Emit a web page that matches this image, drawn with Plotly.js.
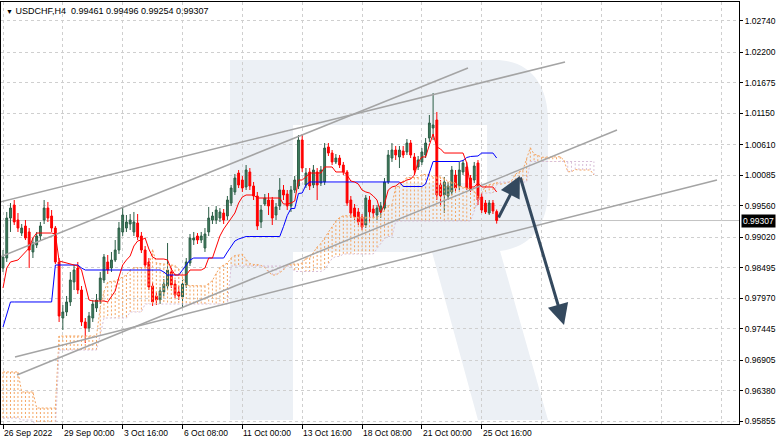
<!DOCTYPE html>
<html><head><meta charset="utf-8">
<script src="https://cdn.plot.ly/plotly-3.0.1.min.js"></script>
<style>html,body{margin:0;padding:0;background:#fff}#chart{width:782px;height:443px}</style>
</head><body><div id="chart"></div>
<script>
const symbol = 'USDCHF,H4';
const dateLabels = ['26 Sep 2022','29 Sep 00:00','3 Oct 16:00','6 Oct 08:00','11 Oct 00:00','13 Oct 16:00','18 Oct 08:00','21 Oct 00:00','25 Oct 16:00'];
const labelBars = [0,16,32,48,64,80,96,112,128];
const futureGridBars = [144,160,176,192];
const priceTicks = [1.02740,1.02200,1.01675,1.01150,1.00610,1.00085,0.99560,0.99020,0.98495,0.97970,0.97445,0.96905,0.96380,0.95855];

const open = [
0.98490,0.98662,0.99350,0.99574,0.99316,0.99092,0.99213,0.99110,0.98766,0.98886,
0.99041,0.99316,0.99522,0.99385,0.99178,0.98594,0.97630,0.97734,0.97906,0.98250,
0.98490,0.98112,0.97562,0.97458,0.97630,0.97802,0.97940,0.98284,0.98594,0.98490,
0.98628,0.98800,0.99110,0.99178,0.99247,0.99110,0.99264,0.99041,0.98800,0.98594,
0.98181,0.98009,0.97940,0.98078,0.98181,0.98422,0.98215,0.98078,0.97992,0.98198,
0.98576,0.98972,0.99041,0.98972,0.98834,0.99110,0.99316,0.99316,0.99350,0.99436,
0.99385,0.99608,0.99798,1.00124,1.00004,0.99884,1.00142,0.99901,0.99729,0.99282,
0.99591,0.99660,0.99660,0.99402,0.99557,0.99832,0.99763,0.99557,0.99832,0.99901,
1.00692,0.99918,1.00142,0.99918,1.00142,0.99952,0.99970,1.00572,1.00468,1.00314,
1.00382,1.00262,1.00142,0.99660,0.99522,0.99454,0.99368,0.99230,0.99660,0.99505,
0.99402,0.99454,0.99522,0.99970,1.00382,1.00520,1.00400,1.00503,1.00486,1.00640,
1.00400,1.00228,1.00314,1.00434,1.00726,1.00898,1.01036,0.99918,0.99746,0.99729,
0.99798,1.00090,0.99901,1.00142,1.00228,1.00038,1.00004,1.00296,0.99712,0.99608,
0.99436,0.99608,0.99461];
const high = [
0.98800,0.99454,0.99608,0.99660,0.99436,0.99247,0.99316,0.99178,0.99006,0.99110,
0.99282,0.99660,0.99626,0.99488,0.99213,0.98662,0.97854,0.98009,0.98422,0.98542,
0.98594,0.98181,0.97630,0.97734,0.97940,0.98043,0.98422,0.98731,0.98714,0.98766,
0.98972,0.99282,0.99522,0.99402,0.99419,0.99454,0.99419,0.99110,0.98869,0.98662,
0.98250,0.98078,0.98164,0.98301,0.98920,0.98490,0.98284,0.98181,0.98284,0.98662,
0.99075,0.99110,0.99092,0.99110,0.99178,0.99540,0.99454,0.99557,0.99522,0.99505,
0.99729,0.99918,1.00107,1.00176,1.00073,1.00262,1.00210,0.99970,0.99798,0.99574,
0.99763,0.99780,0.99712,0.99608,1.00038,0.99918,0.99832,0.99901,1.00073,1.00778,
1.00795,1.00210,1.00210,1.00262,1.00210,1.00245,1.00640,1.00640,1.00520,1.00451,
1.00434,1.00314,1.00176,0.99729,0.99591,0.99522,0.99419,0.99746,0.99729,0.99574,
0.99574,0.99626,1.00038,1.00520,1.00640,1.00589,1.00589,1.00589,1.00709,1.00692,
1.00468,1.00417,1.00554,1.00726,1.01122,1.01500,1.01174,1.00004,1.00056,0.99970,
1.00245,1.00176,1.00314,1.00348,1.00314,1.00090,1.00314,1.00348,0.99780,0.99660,
0.99660,0.99660,0.99496];
const low = [
0.98422,0.98594,0.99110,0.99230,0.99110,0.99041,0.98972,0.98490,0.98662,0.98834,
0.98972,0.99247,0.99282,0.99110,0.98559,0.97562,0.97424,0.97665,0.97837,0.98112,
0.98043,0.97493,0.97200,0.97390,0.97562,0.97734,0.97871,0.98232,0.98387,0.98422,
0.98594,0.98731,0.99041,0.99110,0.99144,0.99041,0.98972,0.98748,0.98490,0.98112,
0.97837,0.97854,0.97871,0.98009,0.98112,0.98146,0.97974,0.97940,0.97802,0.98146,
0.98525,0.98886,0.98903,0.98920,0.98766,0.99041,0.99247,0.99247,0.99282,0.99247,
0.99316,0.99557,0.99746,0.99866,0.99798,0.99832,0.99832,0.99660,0.99144,0.99178,
0.99557,0.99402,0.99230,0.99316,0.99488,0.99660,0.99488,0.99454,0.99780,0.99849,
1.00142,0.99866,0.99832,0.99866,0.99660,0.99901,0.99918,1.00417,1.00262,1.00279,
1.00210,1.00090,0.99557,0.99350,0.99316,0.99230,0.99144,0.99178,0.99282,0.99350,
0.99316,0.99350,0.99488,0.99935,1.00314,1.00348,1.00210,1.00382,1.00434,1.00382,
1.00090,1.00176,1.00262,1.00382,1.00658,1.00692,0.99660,0.99574,0.99436,0.99660,
0.99746,0.99798,0.99832,1.00090,0.99832,0.99798,0.99952,0.99574,0.99436,0.99419,
0.99402,0.99419,0.99254];
const close = [
0.98680,0.99350,0.99522,0.99282,0.99178,0.99178,0.99006,0.98800,0.98920,0.99041,
0.99213,0.99522,0.99350,0.99178,0.98594,0.97665,0.97734,0.97906,0.98284,0.98456,
0.98112,0.97562,0.97458,0.97665,0.97871,0.97940,0.98318,0.98680,0.98456,0.98628,
0.98800,0.99178,0.99402,0.99282,0.99316,0.99282,0.99024,0.98800,0.98542,0.98164,
0.97906,0.97940,0.98095,0.98215,0.98456,0.98198,0.98026,0.98009,0.98215,0.98594,
0.99006,0.99006,0.98972,0.99041,0.99075,0.99350,0.99385,0.99488,0.99454,0.99316,
0.99660,0.99866,1.00038,0.99918,0.99866,1.00176,0.99901,0.99729,0.99213,0.99488,
0.99694,0.99557,0.99350,0.99540,0.99832,0.99746,0.99557,0.99832,1.00004,1.00692,
1.00210,1.00124,0.99901,1.00176,0.99918,1.00176,1.00554,1.00468,1.00314,1.00382,
1.00262,1.00142,0.99608,0.99436,0.99368,0.99282,0.99196,0.99694,0.99454,0.99436,
0.99522,0.99557,0.99970,1.00434,1.00520,1.00434,1.00520,1.00434,1.00640,1.00434,
1.00176,1.00348,1.00486,1.00640,1.00984,1.00950,0.99746,0.99729,0.99970,0.99901,
1.00176,0.99866,1.00176,1.00296,0.99866,0.99832,1.00245,0.99660,0.99488,0.99454,
0.99608,0.99471,0.99307];

const tenkan = [
0.98146,0.98490,0.98594,0.98611,0.98628,0.98697,0.98766,0.98834,0.99006,0.99092,
0.99092,0.99092,0.99092,0.99092,0.99075,0.98611,0.98594,0.98576,0.98559,0.98542,
0.98525,0.98456,0.98215,0.97940,0.97923,0.97923,0.97923,0.97923,0.97906,0.97992,
0.98095,0.98336,0.98542,0.98628,0.98697,0.98869,0.98955,0.98972,0.99006,0.98817,
0.98680,0.98645,0.98645,0.98645,0.98628,0.98473,0.98370,0.98370,0.98370,0.98370,
0.98456,0.98456,0.98456,0.98456,0.98490,0.98662,0.98662,0.98852,0.99041,0.99161,
0.99247,0.99333,0.99436,0.99608,0.99712,0.99746,0.99746,0.99746,0.99694,0.99694,
0.99694,0.99694,0.99694,0.99694,0.99694,0.99591,0.99591,0.99608,0.99643,1.00004,
1.00004,1.00056,1.00124,1.00124,1.00124,1.00124,1.00228,1.00228,1.00228,1.00142,
1.00142,1.00142,1.00090,0.99987,0.99970,0.99935,0.99832,0.99798,0.99780,0.99729,
0.99660,0.99436,0.99591,0.99832,0.99884,0.99901,0.99952,0.99970,1.00004,1.00021,
1.00090,1.00314,1.00400,1.00400,1.00606,1.00795,1.00572,1.00537,1.00468,1.00468,
1.00468,1.00468,1.00468,1.00468,1.00296,0.99884,0.99884,0.99952,0.99884,0.99884,
0.99884,0.99884,0.99798];
const kijun = [
0.97476,0.97682,0.97906,0.97906,0.97906,0.97906,0.97906,0.97906,0.97906,0.97906,
0.97906,0.97906,0.97906,0.97906,0.98542,0.98542,0.98542,0.98542,0.98542,0.98542,
0.98542,0.98490,0.98456,0.98456,0.98456,0.98456,0.98456,0.98456,0.98456,0.98456,
0.98456,0.98456,0.98456,0.98456,0.98456,0.98456,0.98456,0.98456,0.98456,0.98456,
0.98456,0.98456,0.98456,0.98422,0.98370,0.98370,0.98370,0.98370,0.98456,0.98542,
0.98628,0.98662,0.98662,0.98662,0.98662,0.98662,0.98662,0.98662,0.98662,0.98662,
0.98766,0.98852,0.98955,0.98989,0.99006,0.99032,0.99032,0.99032,0.99032,0.99032,
0.99032,0.99032,0.99032,0.99032,0.99032,0.99204,0.99393,0.99514,0.99514,0.99772,
0.99780,0.99918,0.99970,0.99970,0.99970,0.99970,0.99970,0.99970,0.99970,0.99970,
0.99970,0.99970,0.99970,0.99970,0.99970,0.99970,0.99970,0.99970,0.99970,0.99970,
0.99970,0.99970,0.99970,0.99970,0.99970,0.99970,0.99970,0.99892,0.99892,0.99892,
0.99892,0.99892,0.99892,0.99935,1.00133,1.00322,1.00322,1.00322,1.00322,1.00322,
1.00322,1.00322,1.00322,1.00339,1.00391,1.00408,1.00408,1.00417,1.00468,1.00468,
1.00468,1.00468,1.00382];
const spanA = [
0.96702,0.96702,0.96702,0.96702,0.96702,0.96358,0.96358,0.96358,0.96358,0.96082,
0.96082,0.96082,0.96082,0.96082,0.96082,0.97321,0.97321,0.97321,0.97321,0.97321,
0.97321,0.97321,0.97321,0.97321,0.97321,0.97321,0.97811,0.98086,0.98250,0.98258,
0.98267,0.98301,0.98336,0.98370,0.98456,0.98499,0.98499,0.98499,0.98499,0.98499,
0.98809,0.98576,0.98568,0.98559,0.98551,0.98542,0.98533,0.98473,0.98336,0.98198,
0.98189,0.98189,0.98189,0.98189,0.98181,0.98224,0.98275,0.98396,0.98499,0.98542,
0.98576,0.98662,0.98705,0.98714,0.98731,0.98637,0.98568,0.98551,0.98551,0.98533,
0.98499,0.98422,0.98370,0.98370,0.98413,0.98456,0.98542,0.98559,0.98559,0.98559,
0.98576,0.98662,0.98662,0.98757,0.98852,0.98912,0.99006,0.99092,0.99196,0.99299,
0.99359,0.99389,0.99389,0.99389,0.99363,0.99363,0.99363,0.99363,0.99363,0.99363,
0.99363,0.99398,0.99493,0.99561,0.99578,0.99888,0.99892,0.99987,1.00047,1.00047,
1.00047,1.00047,1.00099,1.00099,1.00099,1.00056,1.00056,1.00056,1.00030,0.99978,
0.99970,0.99952,0.99901,0.99884,0.99875,0.99849,0.99815,0.99703,0.99780,0.99901,
0.99927,0.99935,0.99961,0.99931,0.99948,0.99957,0.99991,1.00103,1.00146,1.00167,
1.00370,1.00559,1.00447,1.00430,1.00395,1.00395,1.00395,1.00395,1.00395,1.00404,
1.00344,1.00146,1.00146,1.00185,1.00176,1.00176,1.00176,1.00176,1.00090];
const spanB = [
0.95910,0.95910,0.95910,0.95910,0.95910,0.95876,0.95876,0.95876,0.95876,0.95704,
0.95704,0.95704,0.95704,0.95704,0.95704,0.97080,0.97080,0.97080,0.97080,0.97080,
0.97080,0.97080,0.97080,0.97080,0.97080,0.97080,0.97338,0.97630,0.97630,0.97630,
0.97630,0.97630,0.97630,0.97630,0.97734,0.97734,0.97734,0.97734,0.97871,0.97871,
0.97871,0.97871,0.97871,0.97871,0.97871,0.97871,0.97871,0.97871,0.97871,0.97871,
0.97871,0.97871,0.97871,0.97871,0.97871,0.97871,0.97871,0.97871,0.97871,0.97871,
0.97871,0.98525,0.98525,0.98525,0.98525,0.98525,0.98525,0.98525,0.98525,0.98525,
0.98525,0.98525,0.98525,0.98525,0.98525,0.98525,0.98525,0.98525,0.98430,0.98430,
0.98430,0.98430,0.98430,0.98430,0.98430,0.98430,0.98465,0.98559,0.98654,0.98688,
0.98688,0.98731,0.98731,0.98731,0.98731,0.98731,0.98731,0.98731,0.98731,0.98731,
0.98826,0.98912,0.98998,0.99032,0.99032,0.99290,0.99299,0.99299,0.99299,0.99299,
0.99299,0.99299,0.99299,0.99299,0.99299,0.99299,0.99299,0.99299,0.99299,0.99299,
0.99299,0.99299,0.99299,0.99299,0.99299,0.99299,0.99471,0.99660,0.99780,0.99780,
0.99780,0.99780,0.99918,0.99970,0.99970,0.99970,0.99970,0.99970,0.99970,0.99970,
0.99970,1.00322,1.00322,1.00322,1.00322,1.00322,1.00322,1.00322,1.00322,1.00322,
1.00322,1.00322,1.00322,1.00322,1.00322,1.00322,1.00322,1.00322,1.00322];

// analyst drawings: [barStart, priceStart, barEnd, priceEnd]
const channelLines = [
  [-0.80, 0.99626, 150.27, 1.02034],
  [-0.80, 0.98680, 124.33, 1.01930],
  [3.74, 0.96650, 164.17, 1.00864],
  [3.21, 0.96960, 190.91, 1.00004]
];
// forecast arrows: start, swing high, target  [bar, price]
const forecast = [[132.3, 0.99333], [138.2, 1.00073], [150.0, 0.97510]];

const bars = open.map((_, i) => i);
const cloudBars = spanA.map((_, i) => i);

const hatchUp = {x: [], y: []}, hatchDn = {x: [], y: []};
cloudBars.forEach(i => {
  const t = spanA[i] >= spanB[i] ? hatchUp : hatchDn;
  t.x.push(i, i, null); t.y.push(spanA[i], spanB[i], null);
});

const SANDY = '#F4A460', THISTLE = '#D8BFD8';
const traces = [
  {type:'scatter', mode:'lines', x:hatchUp.x, y:hatchUp.y, line:{color:SANDY, width:1, dash:'2px,2px'}, hoverinfo:'skip', connectgaps:false},
  {type:'scatter', mode:'lines', x:hatchDn.x, y:hatchDn.y, line:{color:THISTLE, width:1, dash:'2px,2px'}, hoverinfo:'skip', connectgaps:false},
  {type:'scatter', mode:'lines', x:cloudBars, y:spanA, line:{color:SANDY, width:1, dash:'2px,2px'}},
  {type:'scatter', mode:'lines', x:cloudBars, y:spanB, line:{color:THISTLE, width:1, dash:'2px,2px'}}
];
channelLines.forEach(l => traces.push({type:'scatter', mode:'lines', x:[l[0], l[2]], y:[l[1], l[3]], line:{color:'#a4a4a4', width:1.5}}));
traces.push({type:'scatter', mode:'lines', x:bars, y:kijun, line:{color:'#0000ff', width:1}});
traces.push({type:'scatter', mode:'lines', x:bars, y:tenkan, line:{color:'#ff0000', width:1}});
traces.push({type:'candlestick', x:bars, open:open, high:high, low:low, close:close,
  increasing:{line:{color:'#2d5e47', width:1}, fillcolor:'#3f7f5f'},
  decreasing:{line:{color:'#ff0000', width:1}, fillcolor:'#ff0000'},
  whiskerwidth:0, hoverinfo:'skip'});

const L = 1, R = 739, T = 2, B = 424;
const PW = R - L, PH = B - T;
function P(px, py){ return ((px - L)/PW).toFixed(4) + ',' + ((B - py)/PH).toFixed(4); }
const wmPath = 'M' + P(230,60) + ' L' + P(495,60) + ' C' + P(530,60) + ' ' + P(548,85) + ' ' + P(548,120) +
  ' L' + P(548,190) + ' C' + P(548,228) + ' ' + P(528,248) + ' ' + P(500,251) +
  ' L' + P(548,420) + ' L' + P(478,420) + ' L' + P(432,252) + ' L' + P(293,252) +
  ' L' + P(293,420) + ' L' + P(230,420) + ' Z M' + P(293,125) + ' L' + P(487,125) +
  ' L' + P(487,183) + ' L' + P(293,183) + ' Z';

const last = close.length - 1;
const fmt = v => v.toFixed(5);
const annotations = [];
annotations.push({xref:'paper', yref:'paper', x:(4-L)/PW, y:(B-11)/PH, xanchor:'left', yanchor:'middle', showarrow:false,
  text:'<span style="font-size:7px">▼</span> ' + symbol + '  ' + fmt(open[last]) + ' ' + fmt(high[last]) + ' ' + fmt(low[last]) + ' ' + fmt(close[last]),
  font:{size:9, color:'#000'}});
labelBars.forEach((b, k) => annotations.push({xref:'x', yref:'paper', x:b, y:(B-433)/PH, xanchor:'left', yanchor:'middle', xshift:-1,
  showarrow:false, text:dateLabels[k], font:{size:8.5, color:'#000'}}));
annotations.push({xref:'paper', yref:'y', x:1, y:close[last], xanchor:'left', yanchor:'middle', xshift:2, showarrow:false,
  text:fmt(close[last]), bgcolor:'#000', borderpad:1, font:{size:8.5, color:'#fff'}});
for (let k = 0; k < forecast.length - 1; k++) {
  annotations.push({xref:'x', yref:'y', axref:'x', ayref:'y', x:forecast[k+1][0], y:forecast[k+1][1],
    ax:forecast[k][0], ay:forecast[k][1], showarrow:true, arrowhead:2, arrowsize:1.4, arrowwidth:3,
    arrowcolor:'#34495e', text:''});
}

const layout = {
  width:782, height:443, margin:{l:L, r:782-R, t:T, b:443-B},
  paper_bgcolor:'#fff', plot_bgcolor:'#fff', showlegend:false,
  font:{family:'Liberation Sans, Arial, sans-serif', size:8.5, color:'#000'},
  xaxis:{range:[(L-3)/3.74 - 0.0, (R-3)/3.74], tickmode:'array', tickvals:labelBars, showticklabels:false,
    ticks:'outside', ticklen:4, tickcolor:'#000', showgrid:true, gridcolor:'#cfcfcf', griddash:'3px,3px',
    minor:{tickmode:'array', tickvals:futureGridBars, showgrid:true, gridcolor:'#cfcfcf', griddash:'3px,3px', ticks:''},
    showline:true, linecolor:'#000', mirror:true, zeroline:false, rangeslider:{visible:false}, fixedrange:true},
  yaxis:{range:[1.0310 - 0.000172*B, 1.0310 - 0.000172*T], side:'right', tickmode:'array', tickvals:priceTicks,
    ticktext:priceTicks.map(fmt), ticks:'outside', ticklen:3, tickcolor:'#000', showgrid:true, gridcolor:'#cfcfcf',
    griddash:'3px,3px', showline:true, linecolor:'#000', mirror:true, zeroline:false, fixedrange:true,
    tickfont:{size:8.5}},
  shapes:[
    {type:'path', xref:'paper', yref:'paper', path:wmPath, fillcolor:'#ecf0f5', line:{width:0}, layer:'below'},
    {type:'line', xref:'paper', yref:'y', x0:0, x1:1, y0:close[last], y1:close[last], line:{color:'#c4c4c4', width:1}, layer:'below'}
  ],
  annotations:annotations
};
Plotly.newPlot('chart', traces, layout, {staticPlot:true, displayModeBar:false});
</script>
</body></html>
